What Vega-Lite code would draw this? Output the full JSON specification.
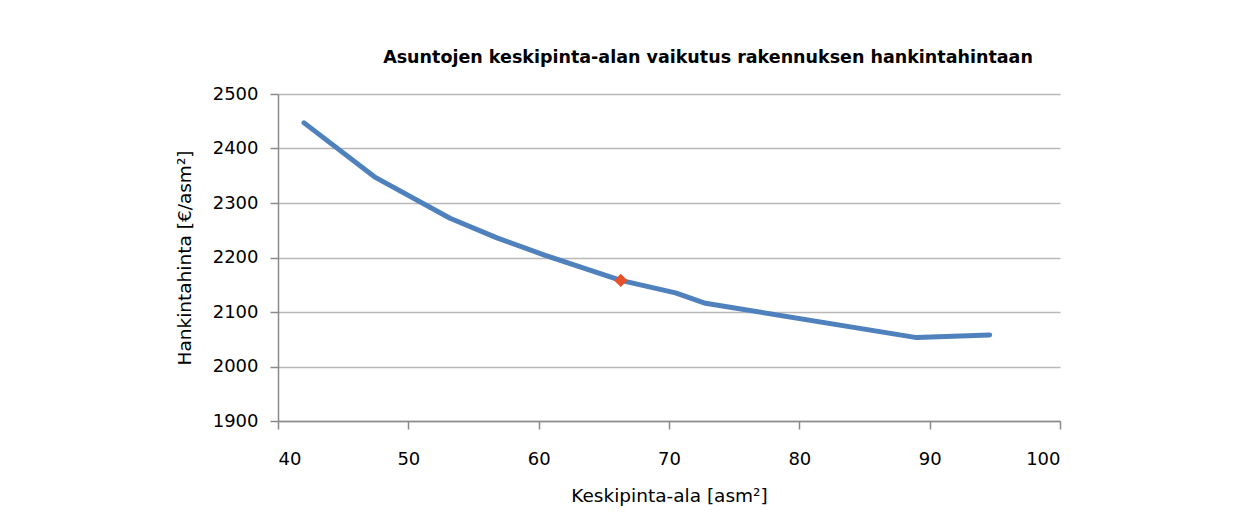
{
  "$schema": "https://vega.github.io/schema/vega-lite/v6.json",
  "autosize": "none",
  "width": 782,
  "height": 327,
  "padding": {"left": 278, "top": 94, "right": 183, "bottom": 104},
  "background": "white",
  "title": {
    "text": "Asuntojen keskipinta-alan vaikutus rakennuksen hankintahintaan",
    "font": "DejaVu Sans",
    "fontSize": 17.5,
    "fontWeight": "bold",
    "color": "#000000",
    "anchor": "middle",
    "dx": 39,
    "offset": 19
  },
  "config": {
    "view": {"stroke": null},
    "axis": {
      "labelFont": "DejaVu Sans",
      "titleFont": "DejaVu Sans",
      "labelFontSize": 18,
      "titleFontSize": 18.5,
      "labelColor": "#000000",
      "titleColor": "#000000",
      "titleFontWeight": "normal",
      "domainColor": "#8a8a8a",
      "domainWidth": 1.5,
      "tickColor": "#8a8a8a",
      "tickWidth": 1.5,
      "gridColor": "#b8b8b8",
      "gridWidth": 1.5,
      "format": "d"
    }
  },
  "datasets": {
    "curve": [
      {"ala": 42.0, "hinta": 2447},
      {"ala": 47.4, "hinta": 2348},
      {"ala": 53.2, "hinta": 2272},
      {"ala": 56.8, "hinta": 2236},
      {"ala": 60.5, "hinta": 2204},
      {"ala": 66.3, "hinta": 2158},
      {"ala": 70.5, "hinta": 2135},
      {"ala": 72.8, "hinta": 2116},
      {"ala": 89.0, "hinta": 2053},
      {"ala": 94.6, "hinta": 2058}
    ],
    "marker": [
      {"ala": 66.3, "hinta": 2158}
    ]
  },
  "layer": [
    {
      "data": {"name": "curve"},
      "mark": {"type": "line", "color": "#4f81bd", "strokeWidth": 5, "strokeCap": "round", "strokeJoin": "round"},
      "encoding": {
        "x": {
          "field": "ala",
          "type": "quantitative",
          "scale": {"domain": [40, 100], "nice": false, "zero": false},
          "axis": {
            "title": "Keskipinta-ala [asm²]",
            "values": [40, 50, 60, 70, 80, 90, 100],
            "grid": false,
            "tickSize": 8,
            "labelPadding": 21,
            "titlePadding": 18
          }
        },
        "y": {
          "field": "hinta",
          "type": "quantitative",
          "scale": {"domain": [1900, 2500], "nice": false, "zero": false},
          "axis": {
            "title": "Hankintahinta [€/asm²]",
            "values": [1900, 1950, 2000, 2050, 2100, 2150, 2200, 2250, 2300, 2350, 2400, 2450, 2500],
            "labelExpr": "datum.value % 100 === 0 ? datum.label : ''",
            "tickOpacity": {"condition": {"test": "datum.value % 100 === 0", "value": 1}, "value": 0},
            "tickSize": 8,
            "labelPadding": 12,
            "titlePadding": 18
          }
        }
      }
    },
    {
      "data": {"name": "marker"},
      "mark": {"type": "point", "shape": "diamond", "filled": true, "color": "#e5522a", "size": 180, "opacity": 1},
      "encoding": {
        "x": {"field": "ala", "type": "quantitative"},
        "y": {"field": "hinta", "type": "quantitative"}
      }
    }
  ]
}
